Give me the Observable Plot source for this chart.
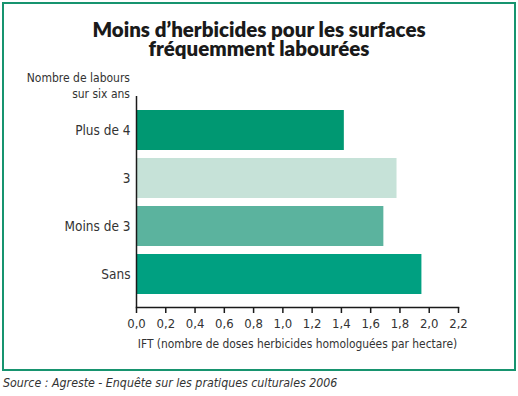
<!DOCTYPE html>
<html>
<head>
<meta charset="utf-8">
<script src="https://cdn.jsdelivr.net/npm/d3@7"></script>
<script src="https://cdn.jsdelivr.net/npm/@observablehq/plot@0.6"></script>
<style>
  html, body { margin: 0; padding: 0; background: #fff; }
  #wrap { position: relative; width: 518px; height: 396px; overflow: hidden; font-family: "DejaVu Sans Condensed", sans-serif; }
  #frame { position: absolute; left: 2px; top: 2px; width: 510px; height: 365px; border: 2.5px solid #17946f; }
  #title { position: absolute; left: 0; width: 518px; top: 20px; text-align: center; font-family: Lato, sans-serif; font-weight: 800; font-size: 20.5px; line-height: 19px; color: #1a1a1a; }
  #ytitle { position: absolute; right: 388px; top: 70px; text-align: right; font-size: 12px; line-height: 16px; color: #333; }
  #source { position: absolute; left: 3px; top: 376px; font-style: italic; font-size: 12.3px; color: #333; }
  #chart { position: absolute; left: 0; top: 0; }
</style>
</head>
<body>
<div id="wrap">
  <div id="frame"></div>
  <div id="chart"></div>
  <div id="title">Moins d’herbicides pour les surfaces<br>fréquemment labourées</div>
  <div id="ytitle">Nombre de labours<br>sur six ans</div>
  <div id="source">Source : Agreste - Enquête sur les pratiques culturales 2006</div>
</div>
<script>
const categories = ["Plus de 4", "3", "Moins de 3", "Sans"];
const values = [1.42, 1.78, 1.69, 1.95];
const colors = ["#009872", "#c6e2d8", "#5bb39e", "#00a081"];
const xTicks = [0, 0.2, 0.4, 0.6, 0.8, 1.0, 1.2, 1.4, 1.6, 1.8, 2.0, 2.2];
const xLabel = "IFT (nombre de doses herbicides homologuées par hectare)";

const data = categories.map((c, i) => ({cat: c, value: values[i]}));

const chart = Plot.plot({
  width: 518,
  height: 396,
  marginLeft: 136,
  marginRight: 60,
  marginTop: 96,
  marginBottom: 89,
  style: {fontFamily: '"DejaVu Sans Condensed", sans-serif', fontSize: "13px", color: "#333", background: "transparent"},
  x: {domain: [0, 2.2]},
  y: {domain: categories, paddingInner: 0.167, paddingOuter: 0.28},
  color: {domain: categories, range: colors},
  marks: [
    Plot.barX(data, {y: "cat", x: "value", fill: "cat"}),
    Plot.ruleX([0], {stroke: "#1a1a1a", strokeWidth: 1.5}),
    Plot.frame({anchor: "bottom", stroke: "#1a1a1a", strokeWidth: 1.5}),
    Plot.axisX({ticks: xTicks, tickSize: 6, tickPadding: 5, strokeWidth: 1.5, stroke: "#1a1a1a", fontSize: 13, tickFormat: d => d.toFixed(1).replace(".", ","), label: null}),
    Plot.axisX({ticks: [], tickSize: 0, fontSize: 11.9, label: xLabel, labelAnchor: "center", labelArrow: "none", labelOffset: 40}),
    Plot.axisY({tickSize: 0, tickPadding: 6, fontSize: 13.5, label: null})
  ]
});
document.getElementById("chart").appendChild(chart);
</script>
</body>
</html>
